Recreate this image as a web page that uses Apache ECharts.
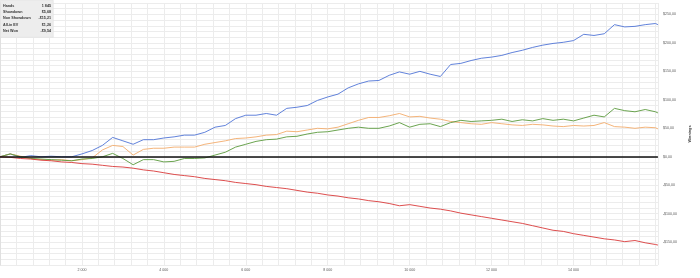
<!DOCTYPE html>
<html>
<head>
<meta charset="utf-8">
<script src="https://cdn.jsdelivr.net/npm/echarts@6/dist/echarts.min.js"></script>
<style>html,body{margin:0;padding:0;background:#fff}#c{width:700px;height:278px}</style>
</head>
<body>
<div id="c"></div>
<script>
var hands = [0,250,500,750,1000,1250,1500,1750,2000,2250,2500,2750,3000,3250,3500,3750,4000,4250,4500,4750,5000,5250,5500,5750,6000,6250,6500,6750,7000,7250,7500,7750,8000,8250,8500,8750,9000,9250,9500,9750,10000,10250,10500,10750,11000,11250,11500,11750,12000,12250,12500,12750,13000,13250,13500,13750,14000,14250,14500,14750,15000,15250,15500,15750,16000,16060];
var showdown = [0,5,-1,2,0,1,0,0,5,11,20,34,28,22,30,30,33,35,38,38,43,52,55,67,73,73,76,73,85,87,90,99,105,110,121,128,133,134,143,149,145,150,145,141,162,164,169,173,175,178,183,187,192,196,199,201,204,215,213,216,232,228,229,232,234,232];
var allinEV = [0,5,1,-3,-5,-6,-5,-7,-5,-2,12,20,18,3,13,15,15,17,17,17,22,25,28,32,33,35,38,39,45,44,47,50,49,52,58,64,69,69,72,76,70,71,68,66,62,60,58,57,60,58,56,55,57,56,54,53,55,54,55,60,53,52,50,52,51,49];
var netWon = [0,5,0,-3,-4,-5,-6,-7,-4,-3,0,6,-3,-14,-5,-5,-9,-8,-3,-3,-2,3,8,17,22,27,30,31,35,36,40,43,44,47,50,52,50,50,54,60,52,57,58,53,60,64,62,63,64,66,62,65,63,67,64,66,63,68,73,70,85,81,79,83,79,77];
var nonShowdown = [0,-1,-3,-4,-6,-7,-9,-10,-12,-13,-15,-17,-18,-20,-23,-25,-28,-31,-33,-35,-38,-40,-42,-45,-47,-49,-52,-54,-56,-59,-62,-64,-67,-69,-72,-74,-77,-79,-82,-86,-84,-87,-90,-92,-95,-99,-102,-105,-108,-111,-114,-117,-121,-125,-129,-131,-135,-138,-141,-144,-146,-149,-147,-151,-154,-155];
var statLabels = ["Hands","Showdown","Non Showdown","All-in EV","Net Won"];
var statValues = ["1 845","$5,68","-$15,21","$1,26","-$9,54"];
var yTitle = "Winnings";

function pairs(v){ return hands.map(function(h,i){ return [h, v[i]]; }); }
function fmtX(v){ if (v % 2000 !== 0 || v <= 0 || v >= 16000) return ''; return String(v).replace(/\B(?=(\d{3})+(?!\d))/g,' '); }
function fmtY(v){ if (v % 50 !== 0) return ''; var a = Math.abs(v).toFixed(2).replace('.',','); return (v < 0 ? '-$' : '$') + a; }

var chart = echarts.init(document.getElementById('c'), null, {renderer:'canvas'});
var font = 'Liberation Sans, Arial, sans-serif';
var graphics = [{type:'rect', left:0, top:0, shape:{width:53, height:37}, style:{fill:'#ededed', stroke:'#dddddd', lineWidth:0.5}, z:100}];
statLabels.forEach(function(l,i){
  graphics.push({type:'text', left:3, top:3.6 + i*6.3, style:{text:l, fontSize:3.7, fontWeight:'bold', fill:'#333', fontFamily:font}, z:101});
  graphics.push({type:'text', right:700-51, top:3.6 + i*6.3, style:{text:statValues[i], fontSize:3.7, fontWeight:'bold', fill:'#333', fontFamily:font, align:'right'}, z:101});
});

function ser(name, vals, color){
  return {name:name, type:'line', data:pairs(vals), showSymbol:false, symbol:'none', lineStyle:{color:color, width:0.9}, itemStyle:{color:color}, animation:false, z:3};
}
var s4 = ser('Non Showdown', nonShowdown, '#d93a3a');
s4.markLine = {symbol:'none', silent:true, label:{show:false}, lineStyle:{color:'#111', width:1.5, type:'solid'}, data:[{yAxis:0}], animation:false};

chart.setOption({
  animation:false,
  backgroundColor:'#fff',
  grid:{left:0, right:34, top:3, bottom:13, containLabel:false},
  xAxis:{type:'value', min:0, max:16060, interval:400,
    axisLine:{show:true, lineStyle:{color:'#e0e0e0', width:1}}, axisTick:{show:false},
    axisLabel:{formatter:fmtX, fontSize:3.6, color:'#595959', margin:3, fontFamily:font, showMinLabel:false, showMaxLabel:false},
    splitLine:{show:true, lineStyle:{color:'#ececec', width:1}}},
  yAxis:{type:'value', position:'right', min:-190, max:270, interval:10,
    name:yTitle, nameLocation:'middle', nameRotate:90, nameGap:27,
    nameTextStyle:{fontSize:3.8, fontWeight:'bold', color:'#404040', fontFamily:font},
    axisLine:{show:true, lineStyle:{color:'#e0e0e0'}}, axisTick:{show:false},
    axisLabel:{formatter:fmtY, fontSize:3.6, color:'#595959', margin:5, fontFamily:font, showMinLabel:false, showMaxLabel:false},
    splitLine:{show:true, lineStyle:{color:'#ececec', width:1}}},
  series:[ser('Showdown', showdown, '#4f74d6'), ser('All-in EV', allinEV, '#f3ac6b'), ser('Net Won', netWon, '#5a9a3c'), s4],
  graphic:graphics
});
</script>
</body>
</html>
